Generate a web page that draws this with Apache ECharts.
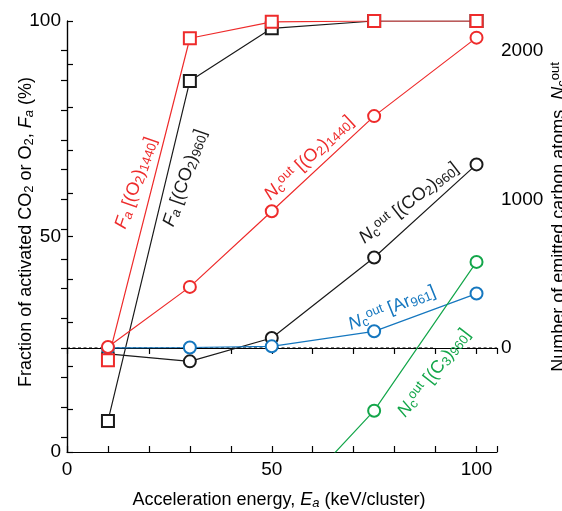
<!DOCTYPE html>
<html>
<head>
<meta charset="utf-8">
<script src="https://cdn.jsdelivr.net/npm/echarts@6/dist/echarts.min.js"></script>
<style>
html,body{margin:0;padding:0;background:#fff;}
#c{width:562px;height:511px;}
</style>
</head>
<body>
<div id="c"></div>
<script>
// ---- data ----
const energies = [10, 30, 50, 75, 100];
const faO2 = [21.3, 96.0, 99.8, 100, 100];
const faCO2 = [7.2, 86.1, 98.3, 100, 100];
const ncO2 = [7, 411, 920, 1560, 2088];
const ncCO2 = [-40, -90, 67, 609, 1235];
const ncAr = [0, 3, 11, 112, 366];
const c3Energies = [50, 75, 100];
const ncC3 = [-1160, -422, 579];
const leftLabels = [0, 50, 100];
const xLabels = [0, 50, 100];
const rightLabels = [0, 1000, 2000];
const rightTicks = [-600, -400, -200, 0, 200, 400, 600, 800, 1000, 1200, 1400, 1600, 1800, 2000];
// zero reference line (dashed), interrupted where the (C3)960 label sits
const zeroLineSegments = [[0, 89.4], [97.7, 105]];

const FONT = "'Liberation Sans', Arial, Helvetica, sans-serif";
const RED = '#ee2b2b', BLACK = '#1a1a1a', BLUE = '#1577bf', GREEN = '#13a64a';

const chart = echarts.init(document.getElementById('c'), null, {renderer: 'canvas'});

function pairs(xs, ys) { return xs.map((x, i) => [x, ys[i]]); }

function rich(color, F, S) {
  const LH = F + 2;
  return {
    n: {fontSize: F, lineHeight: LH, color: color, fontFamily: FONT},
    i: {fontSize: F, lineHeight: LH, color: color, fontFamily: FONT, fontStyle: 'italic'},
    s: {fontSize: S, lineHeight: S + 2, color: color, fontFamily: FONT, verticalAlign: 'bottom'},
    is: {fontSize: S, lineHeight: S + 2, color: color, fontFamily: FONT, verticalAlign: 'bottom', fontStyle: 'italic'},
    sup: {fontSize: S, lineHeight: S, color: color, fontFamily: FONT, verticalAlign: 'top'}
  };
}

function label(text, x, y, deg, color, F, S) {
  return {
    type: 'text', x: x, y: y, rotation: deg * Math.PI / 180, z: 50, silent: true,
    style: {
      text: text,
      rich: rich(color, F, S),
      fill: color,
      font: F + 'px ' + FONT,
      align: 'center', verticalAlign: 'middle',
      textAlign: 'center', textVerticalAlign: 'middle'
    }
  };
}

const axisLineStyle = {color: '#000', width: 1.2};
const tickFont = {color: '#000', fontSize: 19, fontFamily: FONT};

function sym(symbol, color, data, yIdx, z) {
  return {
    type: 'line', data: data, yAxisIndex: yIdx, z: z,
    symbol: symbol, symbolSize: 12, showAllSymbol: true,
    lineStyle: {color: color, width: 1.2},
    itemStyle: {color: color, borderColor: color, borderWidth: 1.3},
    emphasis: {disabled: true}, animation: false, clip: true
  };
}

const c3Data = pairs(c3Energies, ncC3).map((p, i) => i === 0 ? {value: p, symbol: 'none'} : p);

const zeroSeries = zeroLineSegments.map(s => ({
  type: 'line', yAxisIndex: 1, z: 1, silent: true, symbol: 'none',
  data: [[s[0], 0], [s[1], 0]],
  lineStyle: {color: '#000', width: 1, type: [3, 2.5]},
  emphasis: {disabled: true}, animation: false
}));

const option = {
  animation: false,
  backgroundColor: '#fff',
  grid: {left: 67, right: 65, top: 21, bottom: 59},
  xAxis: [{
    type: 'value', min: 0, max: 105, interval: 10, position: 'bottom',
    axisLine: {show: true, lineStyle: axisLineStyle},
    axisTick: {show: true, inside: true, length: 6, lineStyle: axisLineStyle},
    axisLabel: Object.assign({margin: 8, customValues: xLabels, formatter: v => (xLabels.indexOf(v) >= 0 ? String(v) : '')}, tickFont),
    splitLine: {show: false}
  }, {
    type: 'value', min: 0, max: 105, interval: 10, position: 'top',
    axisLine: {show: true, lineStyle: axisLineStyle},
    axisTick: {show: true, inside: true, length: 6, lineStyle: axisLineStyle},
    axisLabel: {show: false},
    splitLine: {show: false}
  }],
  yAxis: [{
    type: 'value', min: 0, max: 100, interval: 10, position: 'left',
    axisLine: {show: true, lineStyle: axisLineStyle},
    axisTick: {show: true, inside: true, length: 6, lineStyle: axisLineStyle},
    axisLabel: Object.assign({margin: 6, customValues: leftLabels, formatter: v => (leftLabels.indexOf(v) >= 0 ? String(v) : '')}, tickFont),
    splitLine: {show: false}
  }, {
    type: 'value', min: -700, max: 2200, interval: 100, position: 'right',
    axisLine: {show: true, lineStyle: axisLineStyle},
    axisTick: {show: true, inside: true, length: 6, customValues: rightTicks, lineStyle: axisLineStyle},
    axisLabel: Object.assign({margin: 4, customValues: rightLabels, formatter: v => (rightLabels.indexOf(v) >= 0 ? String(v) : '')}, tickFont),
    splitLine: {show: false}
  }],
  series: zeroSeries.concat([
    sym('emptyRect', BLACK, pairs(energies, faCO2), 0, 2),
    sym('emptyCircle', BLACK, pairs(energies, ncCO2), 1, 2),
    sym('emptyCircle', BLUE, pairs(energies, ncAr), 1, 3),
    sym('emptyCircle', GREEN, c3Data, 1, 3),
    sym('emptyCircle', RED, pairs(energies, ncO2), 1, 4),
    sym('emptyRect', RED, pairs(energies, faO2), 0, 4)
  ]),
  graphic: {elements: [
    // axis titles
    label('{n|Acceleration energy, }{i|E}{is|a}{n| (keV/cluster)}', 279, 500, 0, '#000', 18, 13),
    label('{n|Fraction of activated CO}{s|2}{n| or O}{s|2}{n|, }{i|F}{is|a}{n| (%)}', 26, 232, 90, '#000', 18, 13),
    label('{n|Number of emitted carbon atoms, }{i|N}{s|c}{sup|out}', 559, 217, 90, '#000', 18, 13),
    // series annotations
    label('{i|F}{is|a}{n| [(O}{s|2}{n|)}{s|1440}{n|]}', 136, 183, 71, RED, 18, 13),
    label('{i|F}{is|a}{n| [(CO}{s|2}{n|)}{s|960}{n|]}', 185, 178, 71, BLACK, 18, 13),
    label('{i|N}{s|c}{sup|out}{n| [(O}{s|2}{n|)}{s|1440}{n|]}', 309, 158, 43, RED, 18, 13),
    label('{i|N}{s|c}{sup|out}{n| [(CO}{s|2}{n|)}{s|960}{n|]}', 409, 203, 38, BLACK, 18, 13),
    label('{i|N}{s|c}{sup|out}{n| [Ar}{s|961}{n|]}', 392, 308, 22, BLUE, 18, 13),
    label('{i|N}{s|c}{sup|out}{n| [(C}{s|3}{n|)}{s|960}{n|]}', 434, 373, 52, GREEN, 18, 13)
  ]}
};
chart.setOption(option);
</script>
</body>
</html>
